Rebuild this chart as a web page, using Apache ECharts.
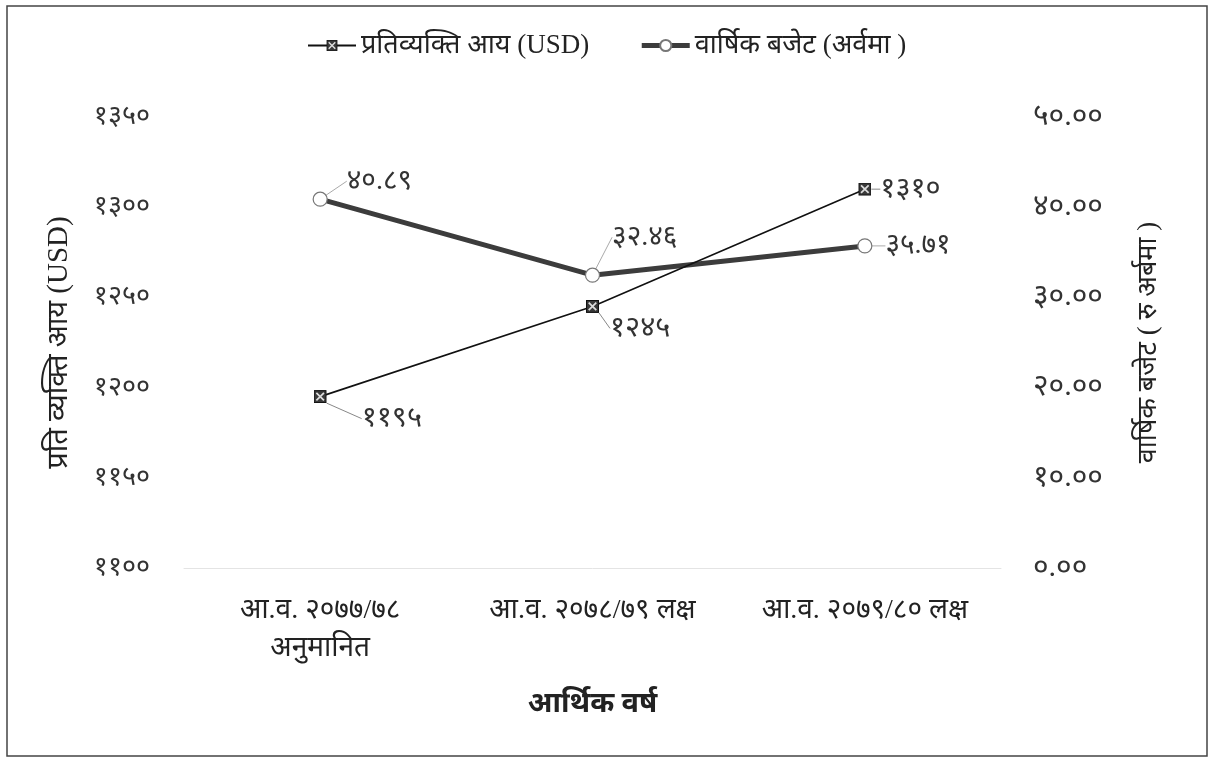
<!DOCTYPE html>
<html><head><meta charset="utf-8">
<script src="https://cdn.jsdelivr.net/npm/echarts@6/dist/echarts.min.js"></script>
<style>html,body{margin:0;padding:0;background:#fff}#c{width:1209px;height:758px}</style>
</head><body><div id="c"></div>
<script>
const categories = ['आ.व. २०७७/७८\nअनुमानित', 'आ.व. २०७८/७९ लक्ष', 'आ.व. २०७९/८० लक्ष'];
const incomeName = 'प्रतिव्यक्ति आय (USD)';
const budgetName = 'वार्षिक बजेट (अर्वमा )';
const incomeValues = [1195, 1245, 1310];
const budgetValues = [40.89, 32.46, 35.71];
const leftTicks = [1100, 1150, 1200, 1250, 1300, 1350];
const rightTicks = [0, 10, 20, 30, 40, 50];

const DEV = '०१२३४५६७८९';
function toDev(s){ return String(s).replace(/[0-9]/g, d => DEV[+d]); }

const FONT = '"Liberation Serif", "Noto Sans", serif';
const sq = 'image://data:image/svg+xml;utf8,' + encodeURIComponent(
  '<svg xmlns="http://www.w3.org/2000/svg" width="12" height="12"><rect x="0.5" y="0.5" width="11" height="11" fill="#3a3a3a" stroke="#111"/><path d="M2.5,2.5L9.5,9.5M9.5,2.5L2.5,9.5" stroke="#ddd" stroke-width="1.6"/></svg>');

const incomeLabelOffsets = [[30, 22], [6, 22], [4, 0]];
const budgetLabelOffsets = [[14, -18], [7, -38], [8, 0]];

const chart = echarts.init(document.getElementById('c'));
chart.setOption({
  backgroundColor: '#fff',
  animation: false,
  textStyle: { fontFamily: FONT },
  graphic: [{
    type: 'rect', shape: { x: 7, y: 6, width: 1200, height: 750 },
    style: { fill: 'none', stroke: '#444', lineWidth: 1.5 }, silent: true
  }],
  legend: {
    top: 27, left: 302, itemGap: 50, itemWidth: 48, itemHeight: 14,
    textStyle: { fontSize: 27, color: '#222', fontFamily: FONT },
    data: [
      { name: incomeName, lineStyle: { color: '#111', width: 2 } },
      { name: budgetName, lineStyle: { color: '#3c3c3c', width: 5 } }
    ]
  },
  grid: { left: 184, right: 208, top: 117, bottom: 190 },
  xAxis: {
    type: 'category', data: categories, boundaryGap: true,
    axisLine: { show: true, lineStyle: { color: '#e4e4e4', width: 1 } },
    axisTick: { show: false },
    axisLabel: { interval: 0, hideOverlap: false, fontSize: 28, color: '#222', margin: 24, lineHeight: 38, fontFamily: FONT },
    name: 'आर्थिक वर्ष', nameLocation: 'middle', nameGap: 122,
    nameTextStyle: { fontSize: 29, fontWeight: 'bold', color: '#222', fontFamily: FONT }
  },
  yAxis: [{
    type: 'value', min: leftTicks[0], max: leftTicks[leftTicks.length - 1], interval: 50,
    splitLine: { show: false }, axisLine: { show: false }, axisTick: { show: false },
    axisLabel: { fontSize: 27, color: '#333', margin: 34, formatter: v => toDev(v), fontFamily: FONT },
    name: 'प्रति व्यक्ति आय (USD)', nameLocation: 'middle', nameGap: 110, nameRotate: 90,
    nameTextStyle: { fontSize: 29, color: '#222', fontFamily: FONT }
  }, {
    type: 'value', min: rightTicks[0], max: rightTicks[rightTicks.length - 1], interval: 10,
    splitLine: { show: false }, axisLine: { show: false }, axisTick: { show: false },
    axisLabel: { fontSize: 30, color: '#333', margin: 32, formatter: v => toDev(v.toFixed(2)), fontFamily: FONT },
    name: 'वार्षिक बजेट ( रु अर्बमा )', nameLocation: 'middle', nameGap: 134, nameRotate: 90,
    nameTextStyle: { fontSize: 27, color: '#222', fontFamily: FONT }
  }],
  series: [{
    name: incomeName, type: 'line', yAxisIndex: 0, data: incomeValues,
    symbol: sq, symbolSize: 13,
    lineStyle: { color: '#111', width: 1.6 }, itemStyle: { color: '#3a3a3a' },
    label: { show: true, position: 'right', fontSize: 29, color: '#333', formatter: p => toDev(p.value), fontFamily: FONT },
    labelLayout: p => ({ dx: incomeLabelOffsets[p.dataIndex][0], dy: incomeLabelOffsets[p.dataIndex][1] }),
    labelLine: { show: true, lineStyle: { color: '#888', width: 1 } },
    z: 3
  }, {
    name: budgetName, type: 'line', yAxisIndex: 1, data: budgetValues,
    symbol: 'circle', symbolSize: 14, showAllSymbol: true,
    lineStyle: { color: '#3c3c3c', width: 5 },
    itemStyle: { color: '#fff', borderColor: '#777', borderWidth: 1.2 },
    label: { show: true, position: 'right', fontSize: 28, color: '#333', formatter: p => toDev(p.value.toFixed(2)), fontFamily: FONT },
    labelLayout: p => ({ dx: budgetLabelOffsets[p.dataIndex][0], dy: budgetLabelOffsets[p.dataIndex][1] }),
    labelLine: { show: true, lineStyle: { color: '#aaa', width: 1 } },
    z: 2
  }]
});
</script></body></html>
